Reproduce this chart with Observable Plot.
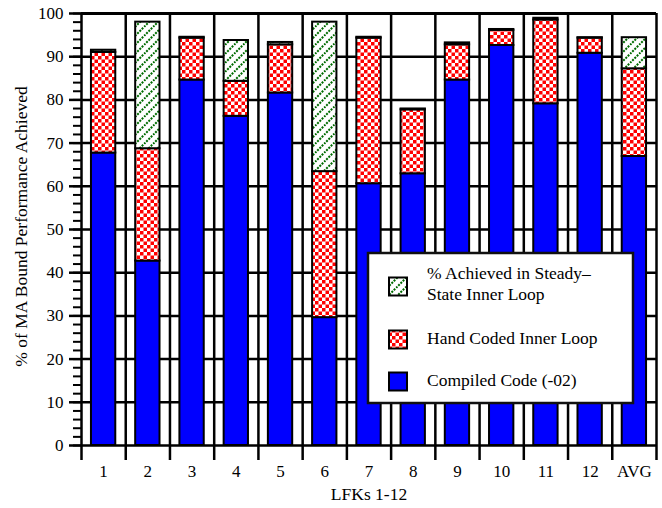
<!DOCTYPE html>
<html>
<head>
<meta charset="utf-8">
<script src="https://cdn.jsdelivr.net/npm/d3@7"></script>
<script src="https://cdn.jsdelivr.net/npm/@observablehq/plot@0.6"></script>
<style>
  html, body { margin: 0; padding: 0; background: white; }
  #chart svg, #chart svg text { font-family: "Liberation Serif", "Times New Roman", serif !important; }
</style>
</head>
<body>
<div id="chart"></div>
<script>
const categories = ["1", "2", "3", "4", "5", "6", "7", "8", "9", "10", "11", "12", "AVG"];
// cumulative tops of each stacked segment (% of MA bound performance)
const compiled   = [67.7, 42.7, 84.6, 76.2, 81.6, 29.6, 60.6, 62.9, 84.6, 92.6, 79.1, 90.8, 66.9];
const handCoded  = [91.0, 68.7, 94.3, 84.3, 92.75, 63.4, 94.3, 77.7, 92.75, 96.1, 98.5, 94.3, 87.2];
const steady     = [91.5, 98.0, 94.5, 93.75, 93.3, 98.0, 94.5, 77.9, 93.2, 96.3, 98.9, 94.4, 94.4];
const yMajorTicks = d3.range(0, 101, 10);
const yMinorTicks = d3.range(0, 101, 2);
const legendItems = [
  {lines: ["% Achieved in Steady\u2013", "State Inner Loop"], fill: "url(#hatch)"},
  {lines: ["Hand Coded Inner Loop"], fill: "url(#checker)"},
  {lines: ["Compiled Code (-02)"], fill: "#0000ff"}
];
const yLabel = "% of MA Bound Performance Achieved";
const xLabel = "LFKs 1-12";

const idx = d3.range(categories.length);
const bx1 = i => i + 0.225, bx2 = i => i + 0.775;

const svg = Plot.plot({
  width: 662,
  height: 508,
  marginLeft: 81,
  marginRight: 6,
  marginTop: 13,
  marginBottom: 63,
  style: {fontSize: "17px", background: "white", color: "black"},
  x: {type: "linear", domain: [0, categories.length], axis: null},
  y: {domain: [0, 100], axis: null},
  marks: [
    Plot.ruleY(yMajorTicks, {stroke: "black", strokeWidth: 2.5}),
    Plot.ruleY([100], {stroke: "black", strokeWidth: 3}),
    Plot.ruleX(d3.range(0, categories.length + 1), {stroke: "black", strokeWidth: 2.5}),
    Plot.rectY(idx, {x1: bx1, x2: bx2, y1: 0, y2: i => compiled[i], fill: "#0000ff", stroke: "black", strokeWidth: 2}),
    Plot.rectY(idx, {x1: bx1, x2: bx2, y1: i => compiled[i], y2: i => handCoded[i], fill: "url(#checker)", stroke: "black", strokeWidth: 2}),
    Plot.rectY(idx, {x1: bx1, x2: bx2, y1: i => handCoded[i], y2: i => steady[i], fill: "url(#hatch)", stroke: "black", strokeWidth: 2}),
    Plot.axisY({ticks: yMajorTicks, tickSize: 12, tickPadding: 6, strokeWidth: 2.5, tickFormat: d => String(d), label: null}),
    Plot.axisY({ticks: yMinorTicks, tickSize: 8, strokeWidth: 2, tickFormat: () => "", label: null}),
    Plot.axisX({ticks: d3.range(0, categories.length + 1), tickSize: 15, strokeWidth: 2.5, tickFormat: () => "", label: null}),
    Plot.axisX({ticks: idx.map(i => i + 0.5), tickSize: 0, tickPadding: 19, tickFormat: t => categories[Math.floor(t)], label: null}),
    Plot.text([yLabel], {frameAnchor: "left", rotate: -90, dx: -60, dy: -3, fontSize: 17.5, textAnchor: "middle", lineAnchor: "middle", text: d => d}),
    Plot.text([xLabel], {frameAnchor: "bottom", dy: 49, fontSize: 17.5, textAnchor: "middle", lineAnchor: "middle", text: d => d})
  ]
});

const s = d3.select(svg);
const defs = s.insert("defs", ":first-child");
const hatch = defs.append("pattern").attr("id", "hatch").attr("patternUnits", "userSpaceOnUse")
  .attr("width", 9).attr("height", 9);
hatch.append("rect").attr("width", 9).attr("height", 9).attr("fill", "white");
[[0, 9, 9, 0], [-2, 2, 2, -2], [7, 11, 11, 7]].forEach(([a, b, c, d]) =>
  hatch.append("line").attr("x1", a).attr("y1", b).attr("x2", c).attr("y2", d)
    .attr("stroke", "#006b00").attr("stroke-width", 2).attr("stroke-dasharray", "2 1.2"));
const checker = defs.append("pattern").attr("id", "checker").attr("patternUnits", "userSpaceOnUse")
  .attr("width", 7).attr("height", 7);
checker.append("rect").attr("width", 7).attr("height", 7).attr("fill", "white");
checker.append("rect").attr("width", 3.5).attr("height", 3.5).attr("fill", "#ff0000");
checker.append("rect").attr("x", 3.5).attr("y", 3.5).attr("width", 3.5).attr("height", 3.5).attr("fill", "#ff0000");

// legend box (inside plot area)
const lg = s.append("g").attr("font-size", 17.5).attr("text-anchor", "start");
lg.append("rect").attr("x", 368).attr("y", 253).attr("width", 265).attr("height", 150)
  .attr("fill", "white").attr("stroke", "#111").attr("stroke-width", 2.5);
const rowCenters = [286.5, 339.5, 381.5];
legendItems.forEach((it, k) => {
  const cy = rowCenters[k];
  lg.append("rect").attr("x", 389).attr("y", cy - 9).attr("width", 18).attr("height", 18)
    .attr("fill", it.fill).attr("stroke", "black").attr("stroke-width", 2);
  const n = it.lines.length;
  it.lines.forEach((line, j) => {
    const ty = n === 1 ? cy - 1.5 : cy - 13.5 + j * 21;
    lg.append("text").attr("x", 427).attr("y", ty).attr("dy", "0.35em").attr("text-anchor", "start").text(line);
  });
});

document.getElementById("chart").appendChild(svg);
</script>
</body>
</html>
